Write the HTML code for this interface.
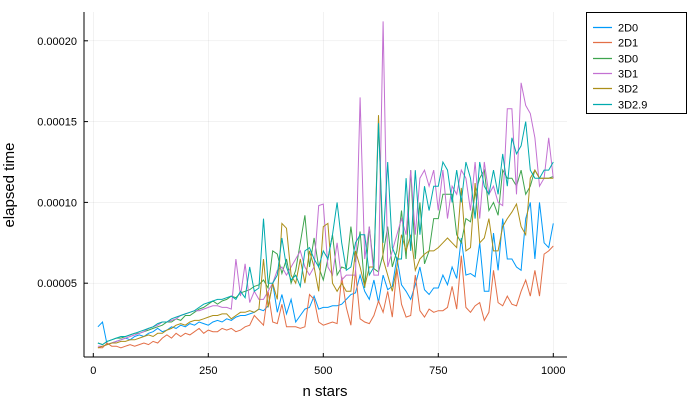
<!DOCTYPE html>
<html><head><meta charset="utf-8"><style>
body{margin:0;background:#fff}
svg text{font-family:"Liberation Sans","DejaVu Sans",sans-serif;fill:#000}
</style></head><body>
<svg id="chart" width="700" height="400" xmlns="http://www.w3.org/2000/svg">
<g id="grid"></g><g id="series"></g><g id="axes"></g><g id="legend"></g>
</svg>
<script>
const xTicks=[0,250,500,750,1000];
const yTicks=[0.00005,0.0001,0.00015,0.0002];
const yTickLabels=["0.00005","0.00010","0.00015","0.00020"];
const seriesNames=["2D0","2D1","3D0","3D1","3D2","3D2.9"];
const s2D0=[2.3,2.6,1.2,1.3,1.4,1.5,1.6,1.5,1.7,1.8,1.7,1.9,2.0,2.2,2.0,2.1,2.3,2.2,2.4,2.3,2.5,2.4,2.6,2.5,2.4,2.6,2.7,2.6,2.8,2.7,2.9,3.0,3.0,3.1,3.2,3.4,3.3,3.6,5.0,3.2,4.3,3.1,4.0,2.6,3.0,3.4,3.5,4.2,3.4,3.5,3.5,3.6,3.6,3.7,4.0,4.3,4.4,5.5,4.5,4.0,5.2,3.8,5.5,4.6,4.8,6.6,4.9,4.5,4.0,4.9,6.0,4.6,4.3,4.7,4.7,5.5,4.9,6.0,5.3,7.8,5.5,5.6,5.4,7.5,4.5,4.5,8.1,5.8,9.0,6.5,6.5,6.0,5.8,9.0,10.0,6.5,10.0,7.5,7.2,8.7];
const s2D1=[1.0,1.0,1.3,1.1,1.1,1.0,1.1,1.2,1.1,1.2,1.3,1.2,1.4,1.3,1.6,1.8,1.6,1.9,1.7,1.9,1.8,2.0,2.2,1.9,2.1,2.0,2.0,2.2,2.1,2.2,2.0,2.1,2.3,2.4,3.0,2.7,2.4,4.5,2.6,2.5,3.7,2.3,2.3,2.3,2.2,2.3,4.3,4.0,2.6,2.4,2.5,2.6,2.5,5.4,3.5,2.4,5.8,2.8,2.6,2.5,3.0,3.9,3.2,4.5,2.9,5.9,3.7,2.9,3.0,5.5,3.3,2.9,3.4,3.2,3.3,3.3,3.5,4.8,3.4,6.7,3.5,3.2,3.6,3.8,2.7,3.2,5.8,3.8,3.6,4.2,3.7,3.6,4.5,5.2,4.2,5.8,4.2,6.8,7.0,7.3];
const s3D0=[1.3,1.2,1.4,1.5,1.6,1.6,1.7,1.8,1.9,1.9,2.0,2.1,2.2,2.3,2.4,2.6,2.6,2.8,2.7,3.0,3.0,3.2,3.4,3.5,3.7,3.9,3.7,3.9,4.0,4.2,4.1,4.4,4.5,4.6,4.8,4.9,5.2,4.7,7.0,6.8,5.6,6.5,5.0,5.8,7.5,9.2,6.0,7.8,6.0,5.2,6.5,8.0,5.5,6.0,5.9,8.5,6.3,8.2,4.7,8.5,5.9,5.7,6.8,8.5,6.0,7.0,9.5,6.5,12.0,6.5,10.0,6.2,7.0,9.0,9.0,10.5,10.5,10.5,8.0,7.5,9.0,8.8,10.5,11.5,12.0,9.5,10.0,9.2,12.0,11.5,11.5,11.0,12.0,10.5,11.0,12.0,11.5,11.5,11.5,11.6];
const s3D1=[1.1,1.1,1.2,1.3,1.4,1.5,1.6,1.7,1.8,1.9,2.0,2.2,2.3,2.4,2.6,2.6,2.7,2.8,3.0,3.1,3.2,3.3,3.3,3.4,3.5,3.6,3.6,3.5,3.5,3.4,6.5,4.2,6.2,3.8,4.5,4.0,4.0,4.5,5.0,5.8,6.0,5.5,6.0,6.5,7.0,6.0,5.5,6.0,9.8,9.9,6.0,5.5,7.5,5.2,5.5,5.5,5.5,16.5,6.5,8.5,5.5,5.5,21.2,6.0,7.0,8.0,9.0,8.0,12.0,8.0,11.5,12.0,11.0,12.0,9.5,12.0,9.0,11.0,10.5,12.0,11.5,9.5,12.5,9.0,12.5,10.5,11.0,10.0,9.8,15.8,15.8,10.5,17.4,16.0,15.5,14.0,11.0,11.5,14.0,11.5];
const s3D2=[1.0,1.1,1.2,1.3,1.3,1.4,1.4,1.5,1.5,1.6,1.7,1.8,1.7,1.9,1.9,2.1,2.2,2.4,2.5,2.4,2.6,2.7,2.7,2.8,2.9,3.0,3.0,3.1,3.1,2.8,3.0,3.2,3.2,3.3,3.2,3.4,6.5,3.5,5.0,4.0,8.7,8.4,5.5,5.0,6.5,5.0,7.0,6.0,4.5,8.5,8.7,5.0,4.5,5.0,4.5,4.5,7.0,6.0,4.8,6.0,6.0,15.4,6.5,5.5,4.5,6.0,8.0,7.0,8.0,5.8,6.5,6.8,7.0,7.0,7.2,7.5,7.8,7.5,7.2,10.9,7.0,7.2,11.2,7.5,7.8,9.0,7.0,7.0,8.5,9.0,9.4,9.9,8.5,8.0,11.5,12.0,11.5,11.5,11.5,11.5];
const s3D29=[1.3,1.2,1.4,1.5,1.6,1.7,1.7,1.8,1.9,2.0,2.1,2.2,2.3,2.5,2.6,2.6,2.8,2.9,3.0,3.1,3.2,3.3,3.5,3.7,3.8,3.9,4.0,4.0,4.1,4.2,4.0,4.5,4.1,6.0,4.5,4.7,9.0,5.0,5.0,5.5,7.8,6.0,5.2,5.5,4.8,7.0,7.2,6.5,6.0,7.0,6.5,8.0,10.0,7.5,5.8,6.0,7.5,8.0,8.0,5.5,6.0,14.9,7.5,12.5,7.2,6.5,6.5,11.5,7.0,12.0,8.0,11.0,9.5,11.0,11.0,12.5,12.0,10.0,12.0,10.0,12.5,11.5,9.0,12.5,11.0,10.5,12.0,10.5,13.0,11.0,14.0,13.0,13.5,15.0,12.0,11.5,11.5,12.0,12.0,12.5];
const seriesData=[s2D0,s2D1,s3D0,s3D1,s3D2,s3D29];
const colors=["#009AFA","#E36F47","#3EA44E","#C371D2","#AC8E18","#00AAAE"];
const NS="http://www.w3.org/2000/svg";
const L=84,R=567,T=12,B=357;
function xs(v){return 93.3+v*0.46;}
function ys(v){return 364-v*1616000;}
function mk(tag,attrs,parent){const e=document.createElementNS(NS,tag);for(const k in attrs)e.setAttribute(k,attrs[k]);parent.appendChild(e);return e;}
const grid=document.getElementById('grid'),ax=document.getElementById('axes'),ser=document.getElementById('series'),leg=document.getElementById('legend');
xTicks.forEach(t=>{
 const g=mk('line',{x1:xs(t),x2:xs(t),y1:T,y2:B,stroke:'#000','stroke-opacity':0.1,'stroke-width':0.5},grid);
 
 
 const tk=mk('line',{x1:xs(t),x2:xs(t),y1:B,y2:B-4,stroke:'#000','stroke-width':1},ax);
 
 
 const tx=mk('text',{x:xs(t),y:374,'text-anchor':'middle','font-size':11},ax);tx.textContent=t;
 
 
});
yTicks.forEach((t,i)=>{
 const g=mk('line',{x1:L,x2:R,y1:ys(t),y2:ys(t),stroke:'#000','stroke-opacity':0.1,'stroke-width':0.5},grid);
 
 
 const tk=mk('line',{x1:L,x2:L+4,y1:ys(t),y2:ys(t),stroke:'#000','stroke-width':1},ax);
 
 
 const tx=mk('text',{x:77,y:ys(t)+4,'text-anchor':'end','font-size':11},ax);tx.textContent=yTickLabels[i];
 
 
});
const xa=mk('line',{x1:L,x2:R,y1:B,y2:B,stroke:'#000','stroke-width':1},ax);


const ya=mk('line',{x1:L,x2:L,y1:T,y2:B,stroke:'#000','stroke-width':1},ax);


const xt=mk('text',{x:325,y:396,'text-anchor':'middle','font-size':15},ax);xt.textContent='n stars';


const yt=mk('text',{x:0,y:0,'text-anchor':'middle','font-size':15,transform:'translate(14,185) rotate(-90)'},ax);yt.textContent='elapsed time';


seriesData.forEach((d,si)=>{
 const pts=d.map((v,i)=>xs((i+1)*10).toFixed(1)+','+ys(v*1e-5).toFixed(1)).join(' ');
 const p=mk('polyline',{points:pts,fill:'none',stroke:colors[si],'stroke-width':1},ser);
 
 
});
const box=mk('rect',{x:586.5,y:12.5,width:100,height:101,fill:'#fff',stroke:'#000','stroke-width':1},leg);


seriesNames.forEach((n,i)=>{
 const y=Math.round(27+i*15.3)+0.5;
 const ln=mk('line',{x1:593,x2:612,y1:y,y2:y,stroke:colors[i],'stroke-width':1.2},leg);
 
 
 const t=mk('text',{x:618,y:y+4,'font-size':11},leg);t.textContent=n;
 
 
});
</script>
</body></html>
